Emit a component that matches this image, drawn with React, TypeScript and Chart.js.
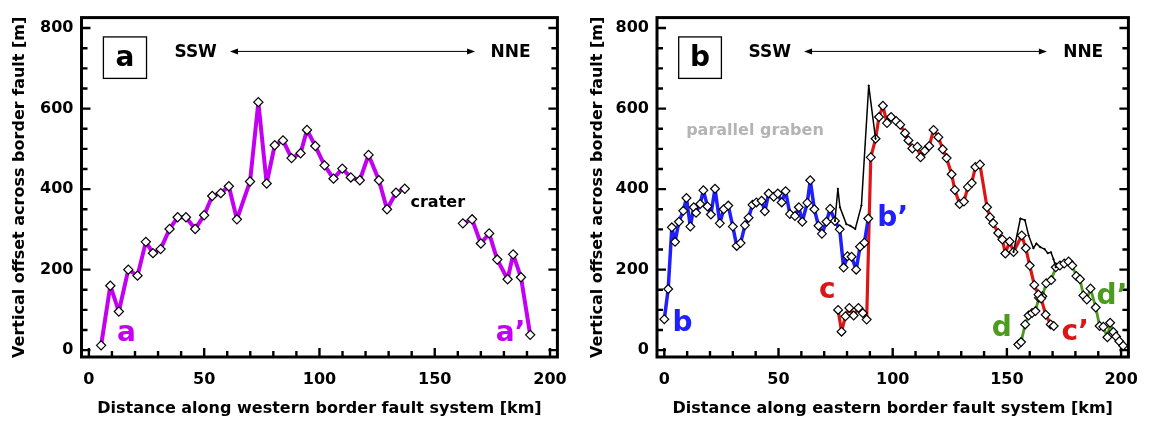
import React, { useEffect, useRef } from "react";
import { Chart, registerables } from "chart.js";

Chart.register(...registerables);

const FONT = '"DejaVu Sans", "Liberation Sans", sans-serif';

// ---------- Panel a : western border fault ----------
const aKm = [5.3, 9.3, 13.0, 17.1, 21.1, 24.7, 27.8, 31.1, 35.0, 38.5, 42.1, 46.1, 50.0, 53.5, 57.2, 60.7, 64.2, 69.9, 73.5, 77.1, 80.6, 84.2, 87.9, 91.8, 94.6, 98.2, 102.2, 106.1, 109.9, 113.6, 117.5, 121.3, 125.8, 129.3, 133.2, 137.0, 150, 162.2, 166.2, 170.0, 173.6, 177.1, 181.6, 184.0, 187.4, 191.4];
const aOffset = [12, 160, 96, 200, 185, 269, 241, 251, 301, 330, 330, 301, 335, 383, 390, 407, 325, 419, 616, 414, 509, 521, 477, 489, 547, 507, 459, 426, 451, 429, 422, 485, 422, 350, 391, 401, null, 315, 325, 265, 290, 225, 176, 238, 181, 38];

// ---------- Panel b : eastern border fault ----------
const bKm = [0, 1.7, 3.3, 4.7, 6.4, 8.3, 9.7, 11.4, 12.9, 13.9, 15.7, 17.1, 18.9, 20.4, 22.2, 24.3, 26.0, 28.0, 30.0, 31.7, 33.4, 35.3, 36.9, 38.6, 40.3, 42.6, 44.0, 45.7, 47.9, 49.7, 51.4, 53.1, 55.0, 57.2, 58.9, 60.4, 62.6, 63.9, 65.7, 67.5, 69.0, 71.0, 72.6, 74.7, 76.8, 78.5, 80.2, 82.0, 84.0, 85.7, 87.6, 89.3];
const bOffset = [77, 152, 305, 269, 319, 346, 378, 307, 355, 341, 363, 397, 357, 337, 401, 315, 350, 359, 307, 259, 266, 310, 329, 361, 367, 371, 345, 389, 381, 389, 367, 395, 338, 333, 355, 319, 366, 422, 350, 309, 289, 319, 351, 321, 300, 205, 233, 232, 200, 257, 267, 327];

const cKm = [76.1, 77.6, 79.3, 81.0, 82.9, 85.0, 86.9, 88.6, 90.4, 92.5, 94.0, 95.7, 97.5, 99.3, 101.5, 103.3, 105.4, 106.9, 108.6, 110.8, 112.2, 114.0, 116.0, 117.9, 120.0, 121.9, 123.6, 125.8, 127.2, 129.3, 131.2, 132.9, 134.6, 136.2, 138.2, 141.3, 142.6, 144.0, 146.2, 148.0, 149.3, 151.2, 152.9, 156.5, 158.3, 160.0, 162.0, 163.8, 165.0, 167.0, 169.2, 170.5];
const cOffset = [100, 46, 84, 105, 86, 105, 92, 76, 479, 525, 579, 607, 564, 579, 569, 560, 539, 521, 501, 505, 479, 495, 507, 547, 529, 499, 477, 437, 398, 363, 369, 405, 415, 455, 461, 355, 330, 315, 291, 275, 240, 270, 244, 285, 253, 210, 162, 138, 128, 88, 64, 60];

const dKm = [155.0, 156.2, 158.0, 159.5, 161.0, 162.5, 164.0, 165.5, 167.2, 169.4, 171.4, 173.2, 175.1, 177.0, 178.6, 180.4, 182.0, 183.5, 185.0, 186.6, 188.9, 190.6, 192.2, 194.0, 195.2, 196.6, 197.8, 199.2, 200.9];
const dOffset = [14, 20, 64, 86, 92, 97, 130, 134, 166, 174, 206, 210, 215, 220, 210, 184, 176, 136, 126, 153, 106, 60, 58, 32, 68, 45, 34, 22, 11];

// thin black line (total offset where segments overlap)
const envKm = [74.7, 76.0, 76.9, 79.7, 81.4, 83.6, 86.3, 89.5, 92.5, 120, 152.9, 155.9, 157.9, 159.5, 161.6, 162.9, 164.6, 166.5, 167.9, 169.3, 170.4, 171.4];
const envOffset = [321, 401, 355, 313, 309, 301, 359, 657, 525, null, 244, 327, 323, 285, 253, 265, 256, 251, 241, 243, 226, 206];

// ---------- axes ----------
const xTickLabels = [0, 50, 100, 150, 200];
const yTickLabels = [0, 200, 400, 600, 800];
const yTitle = "Vertical offset across border fault [m]";
const xTitleA = "Distance along western border fault system [km]";
const xTitleB = "Distance along eastern border fault system [km]";

const MAGENTA = "#c400f2";
const BLUE = "#2020ff";
const RED = "#dc1616";
const GREEN = "#4c9a1e";
const GREY = "#b4b4b4";

type Note = { text: string; x: number; y: number; color: string; size: number };

const notesA: Note[] = [
  { text: "SSW", x: 46.3, y: 738, color: "#000", size: 17 },
  { text: "NNE", x: 182.9, y: 738, color: "#000", size: 17 },
  { text: "crater", x: 151.3, y: 366, color: "#000", size: 16 },
  { text: "a", x: 16.3, y: 40, color: MAGENTA, size: 28 },
  { text: "a\u2019", x: 182.9, y: 42, color: MAGENTA, size: 28 },
];
const notesB: Note[] = [
  { text: "SSW", x: 46.2, y: 738, color: "#000", size: 17 },
  { text: "NNE", x: 183.4, y: 738, color: "#000", size: 17 },
  { text: "parallel graben", x: 39.7, y: 544, color: GREY, size: 16 },
  { text: "b", x: 8, y: 65, color: BLUE, size: 28 },
  { text: "b\u2019", x: 100, y: 327, color: BLUE, size: 28 },
  { text: "c", x: 71.4, y: 148, color: RED, size: 28 },
  { text: "c\u2019", x: 179.9, y: 43, color: RED, size: 28 },
  { text: "d", x: 147.7, y: 53, color: GREEN, size: 28 },
  { text: "d\u2019", x: 196, y: 132, color: GREEN, size: 28 },
];

function pts(xs: number[], ys: (number | null)[]) {
  return xs.map((x, i) => ({ x, y: ys[i] }));
}

function makeDeco(boxLabel: string, notes: Note[]) {
  return {
    id: "deco" + boxLabel,
    afterDatasetsDraw(chart: any) {
      const { ctx, chartArea, scales } = chart;
      const { left, right, top, bottom } = chartArea;
      const xs = scales.x;
      const ys = scales.y;
      ctx.save();
      ctx.strokeStyle = "#000";
      ctx.lineWidth = 2.4;
      ctx.beginPath();
      for (let v = 0; v <= 200; v += 10) {
        const px = xs.getPixelForValue(v);
        const len = v % 50 === 0 ? 9 : 6;
        ctx.moveTo(px, bottom);
        ctx.lineTo(px, bottom - len);
      }
      for (let v = 0; v <= 800; v += 50) {
        const py = ys.getPixelForValue(v);
        const len = v % 200 === 0 ? 9 : 6;
        ctx.moveTo(left, py);
        ctx.lineTo(left + len, py);
        ctx.moveTo(right, py);
        ctx.lineTo(right - len, py);
      }
      ctx.stroke();
      ctx.lineWidth = 3;
      ctx.strokeRect(left, top, right - left, bottom - top);

      // panel label box
      const bx0 = xs.getPixelForValue(6.3);
      const bx1 = xs.getPixelForValue(25.0);
      const by0 = ys.getPixelForValue(778);
      const by1 = ys.getPixelForValue(675);
      ctx.lineWidth = 1.3;
      ctx.fillStyle = "#fff";
      ctx.fillRect(bx0, by0, bx1 - bx0, by1 - by0);
      ctx.strokeRect(bx0, by0, bx1 - bx0, by1 - by0);
      ctx.fillStyle = "#000";
      ctx.font = `bold 28px ${FONT}`;
      ctx.textAlign = "center";
      ctx.textBaseline = "middle";
      ctx.fillText(boxLabel, (bx0 + bx1) / 2, (by0 + by1) / 2 + 1);

      // direction arrow
      const ax0 = xs.getPixelForValue(61.2);
      const ax1 = xs.getPixelForValue(167.5);
      const ay = ys.getPixelForValue(742);
      ctx.lineWidth = 1;
      ctx.beginPath();
      ctx.moveTo(ax0 + 4, ay);
      ctx.lineTo(ax1 - 4, ay);
      ctx.stroke();
      ctx.beginPath();
      ctx.moveTo(ax0, ay);
      ctx.lineTo(ax0 + 8, ay - 3);
      ctx.lineTo(ax0 + 8, ay + 3);
      ctx.closePath();
      ctx.moveTo(ax1, ay);
      ctx.lineTo(ax1 - 8, ay - 3);
      ctx.lineTo(ax1 - 8, ay + 3);
      ctx.closePath();
      ctx.fill();

      for (const n of notes) {
        ctx.font = `bold ${n.size}px ${FONT}`;
        ctx.fillStyle = n.color;
        ctx.fillText(n.text, xs.getPixelForValue(n.x), ys.getPixelForValue(n.y));
      }
      ctx.restore();
    },
  };
}

function lineSet(data: any[], color: string, width: number, radius: number) {
  return {
    data,
    borderColor: color,
    borderWidth: width,
    borderJoinStyle: "round",
    borderCapStyle: "round",
    pointStyle: "rectRot",
    pointRadius: radius,
    pointBackgroundColor: "#fff",
    pointBorderColor: "#000",
    pointBorderWidth: 1.2,
    spanGaps: false,
    tension: 0,
  };
}

function makeOptions(xTitle: string, yScaleWidth: number, rightPad: number, yTitlePad: number) {
  return {
    responsive: false,
    animation: false,
    maintainAspectRatio: false,
    layout: { padding: { top: 5, right: rightPad, bottom: 0, left: 0 } },
    plugins: { legend: { display: false }, tooltip: { enabled: false } },
    scales: {
      x: {
        type: "linear",
        min: -3.2,
        max: 203.2,
        afterFit: (s: any) => {
          s.height = 67;
        },
        grid: { display: false, drawTicks: false },
        border: { display: false },
        ticks: {
          stepSize: 50,
          includeBounds: false,
          autoSkip: false,
          maxRotation: 0,
          padding: 13,
          color: "#000",
          font: { family: FONT, weight: "bold", size: 16 },
          callback: (v: number) => (xTickLabels.includes(v) ? String(v) : ""),
        },
        title: {
          display: true,
          text: xTitle,
          color: "#000",
          font: { family: FONT, weight: "bold", size: 16 },
          padding: { top: 0, bottom: 6 },
        },
      },
      y: {
        type: "linear",
        min: -17,
        max: 826,
        afterFit: (s: any) => {
          s.width = yScaleWidth;
        },
        grid: { display: false, drawTicks: false },
        border: { display: false },
        ticks: {
          stepSize: 200,
          includeBounds: false,
          autoSkip: false,
          padding: 8,
          color: "#000",
          font: { family: FONT, weight: "bold", size: 16 },
          callback: (v: number) => (yTickLabels.includes(v) ? String(v) : ""),
        },
        title: {
          display: true,
          text: yTitle,
          color: "#000",
          font: { family: FONT, weight: "bold", size: 16 },
          padding: { top: yTitlePad, bottom: 0 },
        },
      },
    },
  };
}

export default function App() {
  const refA = useRef<HTMLCanvasElement>(null);
  const refB = useRef<HTMLCanvasElement>(null);

  useEffect(() => {
    const chartA = new Chart(refA.current as HTMLCanvasElement, {
      type: "line",
      data: {
        datasets: [lineSet(pts(aKm, aOffset), MAGENTA, 4, 4.6)],
      },
      options: makeOptions(xTitleA, 81.5, 17.5, 10) as any,
      plugins: [makeDeco("a", notesA)],
    } as any);

    const chartB = new Chart(refB.current as HTMLCanvasElement, {
      type: "line",
      data: {
        datasets: [
          { ...lineSet(pts(envKm, envOffset), "#000", 1.5, 1.3), pointBackgroundColor: "#000", pointBorderWidth: 0 },
          lineSet(pts(bKm, bOffset), BLUE, 3.5, 4.4),
          lineSet(pts(cKm, cOffset), RED, 3.2, 4.4),
          lineSet(pts(dKm, dOffset), GREEN, 2.8, 4.4),
        ],
      },
      options: makeOptions(xTitleB, 77, 13, 8) as any,
      plugins: [makeDeco("b", notesB)],
    } as any);

    return () => {
      chartA.destroy();
      chartB.destroy();
    };
  }, []);

  return (
    <div style={{ position: "absolute", left: 0, top: 0, width: 1151, height: 424, background: "#fff" }}>
      <canvas ref={refA} width={580} height={424} style={{ position: "absolute", left: 0, top: 0 }} />
      <canvas ref={refB} width={571} height={424} style={{ position: "absolute", left: 580, top: 0 }} />
    </div>
  );
}
